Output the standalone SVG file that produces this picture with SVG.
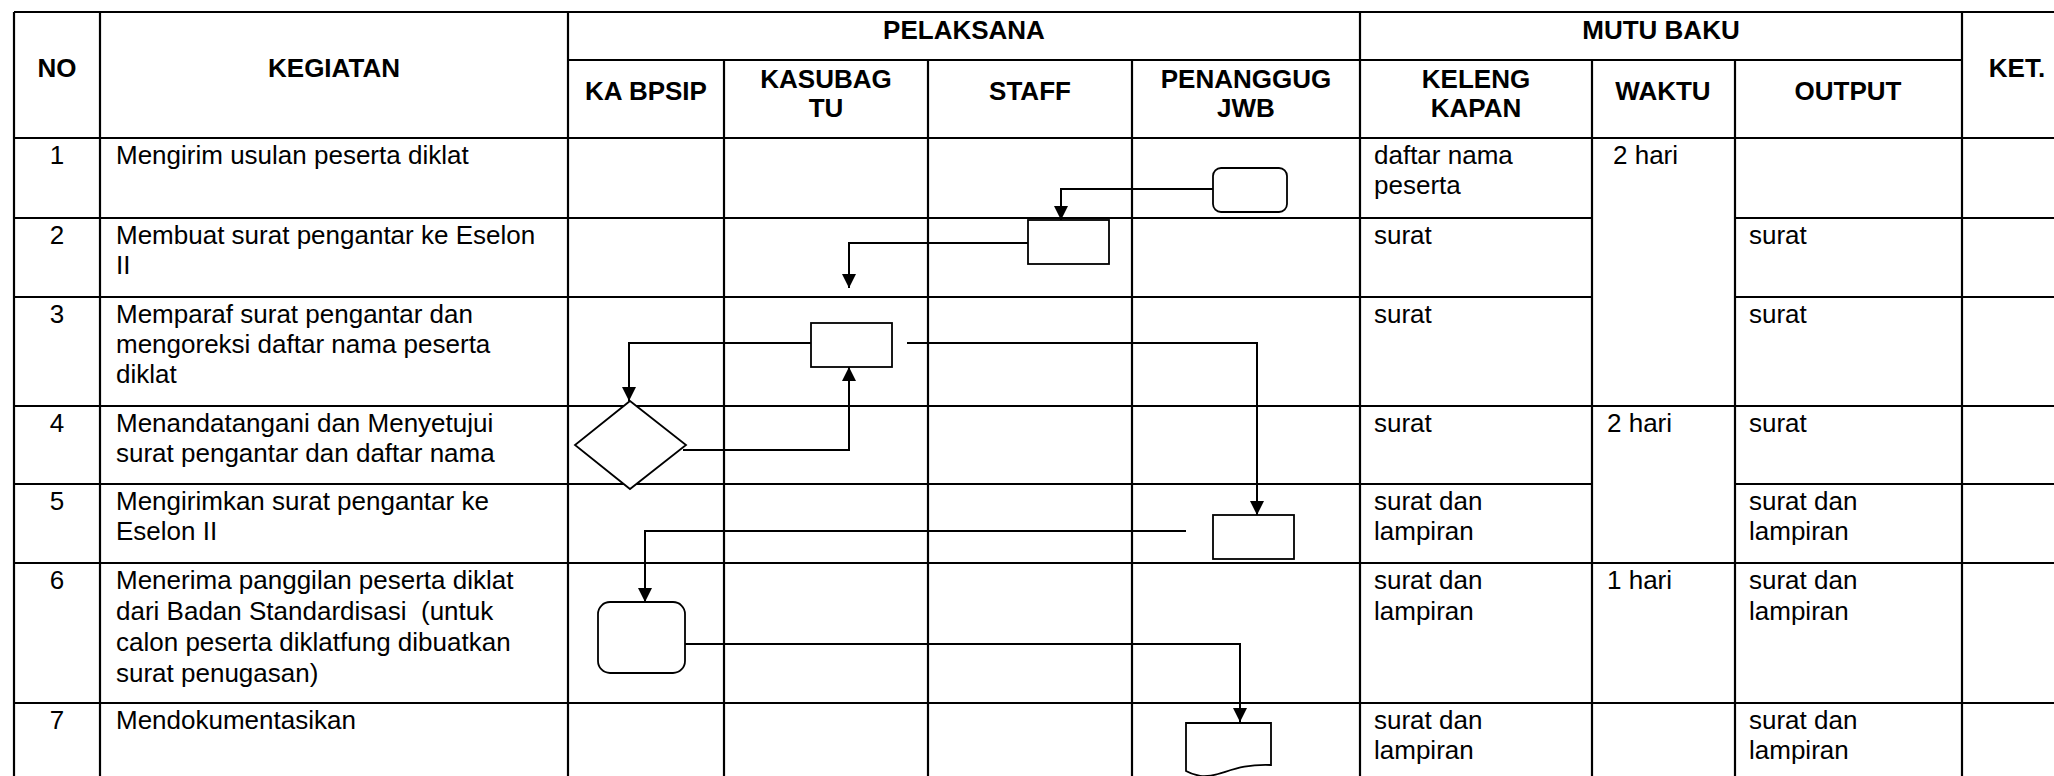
<svg xmlns="http://www.w3.org/2000/svg" width="2054" height="776" viewBox="0 0 2054 776">
<defs>
<style>
.grid line{stroke:#000;stroke-width:2.2}
text{font-family:"Liberation Sans",Arial,sans-serif;font-size:26px;fill:#000}
.h{font-weight:bold;text-anchor:middle}
.c{text-anchor:middle}
.shape{fill:#fff;stroke:#000;stroke-width:1.8}
.conn{fill:none;stroke:#000;stroke-width:2}
</style>
<marker id="ah" viewBox="0 0 14 14" refX="14" refY="7" markerWidth="14" markerHeight="14" markerUnits="userSpaceOnUse" orient="auto">
<path d="M0,0 L14,7 L0,14 Z" fill="#000"/>
</marker>
</defs>
<rect width="2054" height="776" fill="#fff"/>
<g id="table" class="grid">
<line x1="14" y1="12" x2="2054" y2="12"/>
<line x1="568" y1="60" x2="1962" y2="60"/>
<line x1="14" y1="138" x2="2054" y2="138"/>
<line x1="14" y1="218" x2="1592" y2="218"/>
<line x1="1735" y1="218" x2="2054" y2="218"/>
<line x1="14" y1="297" x2="1592" y2="297"/>
<line x1="1735" y1="297" x2="2054" y2="297"/>
<line x1="14" y1="406" x2="2054" y2="406"/>
<line x1="14" y1="484" x2="1592" y2="484"/>
<line x1="1735" y1="484" x2="2054" y2="484"/>
<line x1="14" y1="563" x2="2054" y2="563"/>
<line x1="14" y1="703" x2="2054" y2="703"/>
<line x1="14" y1="12" x2="14" y2="780"/>
<line x1="100" y1="12" x2="100" y2="780"/>
<line x1="568" y1="12" x2="568" y2="780"/>
<line x1="724" y1="60" x2="724" y2="780"/>
<line x1="928" y1="60" x2="928" y2="780"/>
<line x1="1132" y1="60" x2="1132" y2="780"/>
<line x1="1360" y1="12" x2="1360" y2="780"/>
<line x1="1592" y1="60" x2="1592" y2="780"/>
<line x1="1735" y1="60" x2="1735" y2="780"/>
<line x1="1962" y1="12" x2="1962" y2="780"/>
</g>
<g id="header">
<text class="h" x="57" y="77">NO</text>
<text class="h" x="334" y="77">KEGIATAN</text>
<text class="h" x="964" y="39">PELAKSANA</text>
<text class="h" x="1661" y="39">MUTU BAKU</text>
<text class="h" x="2017" y="77">KET.</text>
<text class="h" x="646" y="100">KA BPSIP</text>
<text class="h" x="826" y="88">KASUBAG</text>
<text class="h" x="826" y="117">TU</text>
<text class="h" x="1030" y="100">STAFF</text>
<text class="h" x="1246" y="88">PENANGGUG</text>
<text class="h" x="1246" y="117">JWB</text>
<text class="h" x="1476" y="88">KELENG</text>
<text class="h" x="1476" y="117">KAPAN</text>
<text class="h" x="1663" y="100">WAKTU</text>
<text class="h" x="1848" y="100">OUTPUT</text>
</g>
<g id="rows">
<text class="c" x="57" y="164">1</text>
<text x="116" y="164">Mengirim usulan peserta diklat</text>
<text x="1374" y="164">daftar nama</text>
<text x="1374" y="194">peserta</text>
<text x="1613" y="164">2 hari</text>

<text class="c" x="57" y="244">2</text>
<text x="116" y="244">Membuat surat pengantar ke Eselon</text>
<text x="116" y="274">II</text>
<text x="1374" y="244">surat</text>
<text x="1749" y="244">surat</text>

<text class="c" x="57" y="323">3</text>
<text x="116" y="323">Memparaf surat pengantar dan</text>
<text x="116" y="353">mengoreksi daftar nama peserta</text>
<text x="116" y="383">diklat</text>
<text x="1374" y="323">surat</text>
<text x="1749" y="323">surat</text>

<text class="c" x="57" y="432">4</text>
<text x="116" y="432">Menandatangani dan Menyetujui</text>
<text x="116" y="462">surat pengantar dan daftar nama</text>
<text x="1374" y="432">surat</text>
<text x="1607" y="432">2 hari</text>
<text x="1749" y="432">surat</text>

<text class="c" x="57" y="510">5</text>
<text x="116" y="510">Mengirimkan surat pengantar ke</text>
<text x="116" y="540">Eselon II</text>
<text x="1374" y="510">surat dan</text>
<text x="1374" y="540">lampiran</text>
<text x="1749" y="510">surat dan</text>
<text x="1749" y="540">lampiran</text>

<text class="c" x="57" y="589">6</text>
<text x="116" y="589">Menerima panggilan peserta diklat</text>
<text x="116" y="620" xml:space="preserve" style="white-space:pre">dari Badan Standardisasi  (untuk</text>
<text x="116" y="651">calon peserta diklatfung dibuatkan</text>
<text x="116" y="682">surat penugasan)</text>
<text x="1374" y="589">surat dan</text>
<text x="1374" y="620">lampiran</text>
<text x="1607" y="589">1 hari</text>
<text x="1749" y="589">surat dan</text>
<text x="1749" y="620">lampiran</text>

<text class="c" x="57" y="729">7</text>
<text x="116" y="729">Mendokumentasikan</text>
<text x="1374" y="729">surat dan</text>
<text x="1374" y="759">lampiran</text>
<text x="1749" y="729">surat dan</text>
<text x="1749" y="759">lampiran</text>
</g>
<g id="connectors">
<path class="conn" d="M1213,189 H1061 V220" marker-end="url(#ah)"/>
<path class="conn" d="M1028,243 H849 V288" marker-end="url(#ah)"/>
<path class="conn" d="M811,343 H629 V401" marker-end="url(#ah)"/>
<path class="conn" d="M683,450 H849 V367" marker-end="url(#ah)"/>
<path class="conn" d="M907,343 H1257 V515" marker-end="url(#ah)"/>
<path class="conn" d="M1186,531 H645 V602" marker-end="url(#ah)"/>
<path class="conn" d="M685,644 H1240 V722" marker-end="url(#ah)"/>
</g>
<g id="n1"><rect class="shape" x="1213" y="168" width="74" height="44" rx="8"/></g>
<g id="n2"><rect class="shape" x="1028" y="220" width="81" height="44"/></g>
<g id="n3"><rect class="shape" x="811" y="323" width="81" height="44"/></g>
<g id="n4"><polygon class="shape" points="630,401 686,445 630,489 575,445"/></g>
<g id="n5"><rect class="shape" x="1213" y="515" width="81" height="44"/></g>
<g id="n6"><rect class="shape" x="598" y="602" width="87" height="71" rx="12"/></g>
<g id="n7"><path class="shape" d="M1186,723 H1271 V765 C1245,764 1232,770 1218,774 C1204,778 1195,776 1186,771 Z"/></g>
</svg>
